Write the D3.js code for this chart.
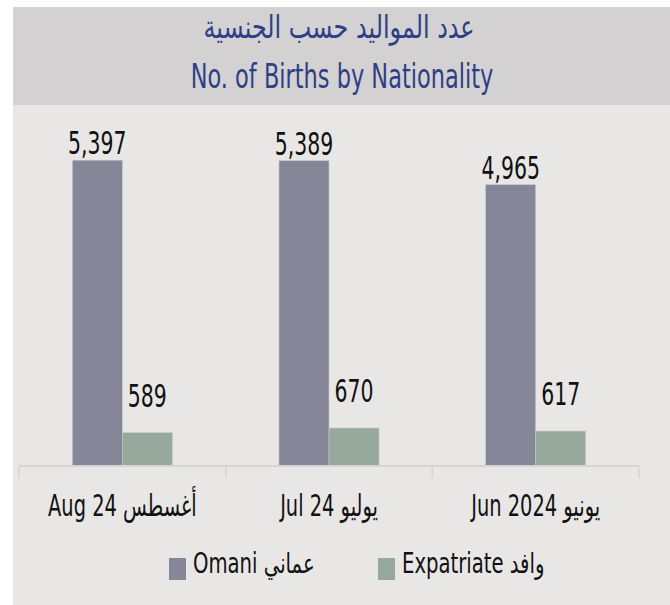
<!DOCTYPE html>
<html>
<head>
<meta charset="utf-8">
<script src="https://cdn.jsdelivr.net/npm/d3@7/dist/d3.min.js"></script>
<style>
html,body{margin:0;padding:0;background:#fff;}
svg{display:block;}
text{font-family:"DejaVu Sans Condensed","DejaVu Sans",sans-serif;}
</style>
</head>
<body>
<svg id="chart" width="670" height="605"></svg>
<script>
const categories = ["Aug 24 أغسطس", "Jul 24 يوليو", "Jun 2024 يونيو"];
const omaniValues = [5397, 5389, 4965];
const expatValues = [589, 670, 617];
const seriesNames = ["Omani  عماني", "Expatriate وافد"];
const titleAr = "عدد المواليد حسب الجنسية";
const titleEn = "No. of Births by Nationality";

const colors = ["#868699", "#97a99c"];
const svg = d3.select("#chart");

// backgrounds
svg.append("rect").attr("x", 13).attr("y", 105).attr("width", 657).attr("height", 500).attr("fill", "#e8e7e5");
svg.append("rect").attr("x", 13).attr("y", 7).attr("width", 657).attr("height", 98).attr("fill", "#d3d1d2");

function sText(g, str, x, y, size, sx, color, anchor) {
  return g.append("text")
    .attr("transform", `translate(${x},${y}) scale(${sx},1)`)
    .attr("text-anchor", anchor || "middle")
    .attr("font-size", size)
    .attr("fill", color)
    .text(str);
}

sText(svg, titleAr, 339, 38, 32, 0.83, "#2e3f85");
sText(svg, titleEn, 342, 88, 33, 0.757, "#2e3f85");

const x = d3.scaleBand().domain(categories).range([19, 639]).padding(0);
const y = d3.scaleLinear().domain([0, 6000]).range([466, 126]);
const barW = 50;

const data = categories.map((c, i) => ({cat: c, vals: [omaniValues[i], expatValues[i]]}));

const g = svg.append("g");
const groups = g.selectAll("g.grp").data(data).join("g").attr("class", "grp")
  .attr("transform", d => `translate(${x(d.cat) + x.bandwidth() / 2},0)`);

groups.selectAll("rect").data(d => d.vals).join("rect")
  .attr("x", (v, j) => (j - 1) * barW)
  .attr("y", v => y(v))
  .attr("width", barW)
  .attr("height", v => y(0) - y(v))
  .attr("fill", (v, j) => colors[j])
  .attr("stroke", "#c9c9cc").attr("stroke-width", 0.6);

const labelOffset = [6, 26];
groups.each(function(d) {
  const gg = d3.select(this);
  d.vals.forEach((v, j) => {
    sText(gg, d3.format(",")(v), (j - 1) * barW + barW / 2, y(v) - labelOffset[j], 32, 0.71, "#111");
  });
});

// axis
const axis = d3.axisBottom(x).tickSize(12).tickFormat("");
const ax = svg.append("g").attr("transform", "translate(0,466)").call(axis);
ax.selectAll(".tick").remove();
ax.select(".domain").remove();
ax.append("line").attr("x1", 19).attr("x2", 639).attr("y1", 0).attr("y2", 0).attr("stroke", "#d4d4d4").attr("stroke-width", 2);
const edges = [x.range()[0], ...categories.map(c => x(c) + x.bandwidth())];
ax.selectAll("line.tk").data(edges).join("line").attr("class", "tk")
  .attr("x1", d => d).attr("x2", d => d).attr("y1", 0).attr("y2", 12)
  .attr("stroke", "#d4d4d4").attr("stroke-width", 1.5);

categories.forEach(c => {
  sText(svg, c, x(c) + x.bandwidth() / 2, 516, 30, 0.72, "#111");
});

// legend
const legX = [169, 378];
seriesNames.forEach((n, i) => {
  svg.append("rect").attr("x", legX[i]).attr("y", 558).attr("width", 17).attr("height", 22).attr("fill", colors[i]);
  sText(svg, n, legX[i] + 24, 573, 28, 0.78, "#111", "start");
});
</script>
</body>
</html>
